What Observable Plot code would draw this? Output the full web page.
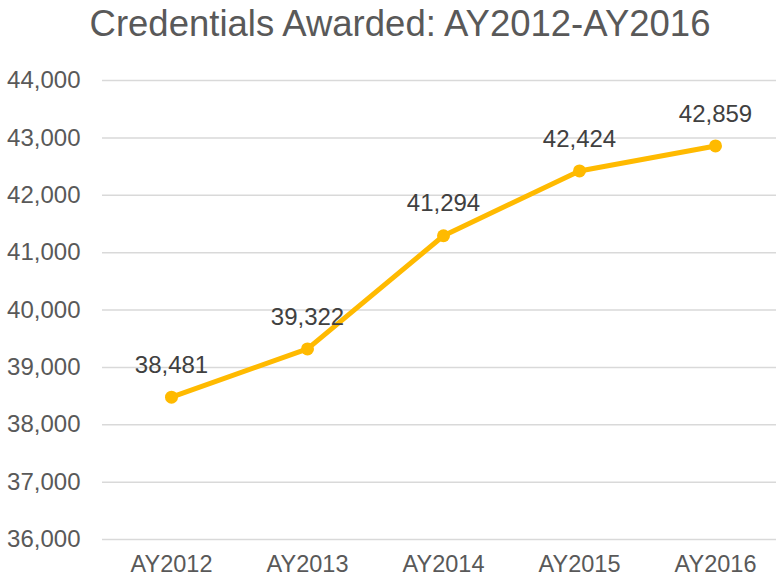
<!DOCTYPE html>
<html>
<head>
<meta charset="utf-8">
<script src="https://cdn.jsdelivr.net/npm/d3@7"></script>
<script src="https://cdn.jsdelivr.net/npm/@observablehq/plot@0.6"></script>
<style>
  html, body { margin: 0; padding: 0; background: #fff; }
  #wrap { width: 776px; height: 579px; overflow: hidden; font-family: "Liberation Sans", Arial, sans-serif; }
  #title { box-sizing: border-box; height: 52px; padding-top: 6px; line-height: 1; text-align: center; font-size: 36.5px; color: #595959; padding-left: 24px; white-space: nowrap; }
</style>
</head>
<body>
<div id="wrap">
  <div id="title">Credentials Awarded: AY2012-AY2016</div>
  <div id="chart"></div>
</div>
<script>
const years = ["AY2012", "AY2013", "AY2014", "AY2015", "AY2016"];
const credentials = [38481, 39322, 41294, 42424, 42859];
const yTicks = [36000, 37000, 38000, 39000, 40000, 41000, 42000, 43000, 44000];

const data = years.map((y, i) => ({year: y, value: credentials[i]}));
const fmt = d3.format(",");

const chart = Plot.plot({
  width: 776,
  height: 527,
  marginTop: 28,
  marginBottom: 40,
  marginLeft: 102,
  marginRight: 0,
  style: {fontFamily: "'Liberation Sans', Arial, sans-serif", background: "#fff"},
  x: {type: "point", domain: years, range: [170, 715], padding: 0, label: null},
  y: {domain: [36000, 44000], label: null},
  marks: [
    Plot.ruleY(yTicks, {stroke: "#d9d9d9", strokeWidth: 1.5}),
    Plot.axisY({ticks: yTicks, tickFormat: fmt, tickSize: 0, tickPadding: 22, fontSize: 24, fill: "#595959", label: null}),
    Plot.axisX({tickSize: 0, tickPadding: 16, fontSize: 23.5, fill: "#595959", label: null}),
    Plot.line(data, {x: "year", y: "value", stroke: "#FFBA00", strokeWidth: 5, strokeLinejoin: "round"}),
    Plot.dot(data, {x: "year", y: "value", fill: "#FFBA00", r: 6.5}),
    Plot.text(data, {x: "year", y: "value", text: d => fmt(d.value), dy: -32, fontSize: 24, fill: "#404040"})
  ]
});
document.getElementById("chart").appendChild(chart);
</script>
</body>
</html>
